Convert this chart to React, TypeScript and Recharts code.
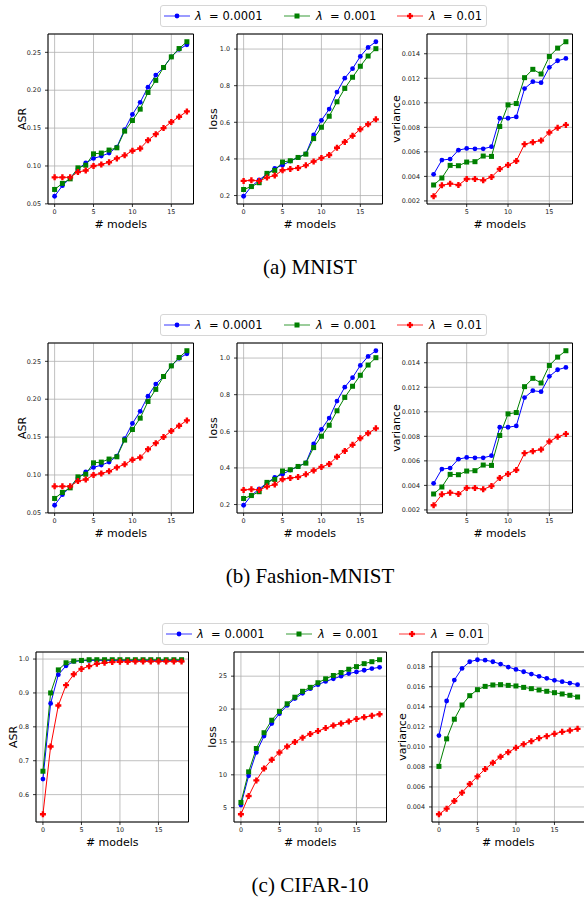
import React from 'react';
import { LineChart, Line, XAxis, YAxis, CartesianGrid, ReferenceArea } from 'recharts';

const FONT = '"DejaVu Sans", sans-serif';
const BLUE = '#0000ff';
const GREEN = '#008000';
const RED = '#ff0000';

// x values
const mnistModels = [0, 1, 2, 3, 4, 5, 6, 7, 8, 9, 10, 11, 12, 13, 14, 15, 16, 17];
const mnistVarModels = [1, 2, 3, 4, 5, 6, 7, 8, 9, 10, 11, 12, 13, 14, 15, 16, 17];
const cifarModels = [0, 1, 2, 3, 4, 5, 6, 7, 8, 9, 10, 11, 12, 13, 14, 15, 16, 17, 18];

// MNIST (also used for Fashion-MNIST, the panels are the same)
const mnistAsr1 = [0.060, 0.074, 0.084, 0.096, 0.104, 0.110, 0.113, 0.117, 0.125, 0.148, 0.168, 0.184, 0.204, 0.220, 0.230, 0.244, 0.254, 0.260];
const mnistAsr2 = [0.069, 0.077, 0.083, 0.0975, 0.101, 0.116, 0.117, 0.121, 0.124, 0.146, 0.160, 0.175, 0.197, 0.213, 0.230, 0.244, 0.255, 0.264];
const mnistAsr3 = [0.085, 0.085, 0.085, 0.092, 0.094, 0.100, 0.102, 0.105, 0.110, 0.114, 0.120, 0.123, 0.134, 0.142, 0.150, 0.158, 0.165, 0.172];

const mnistLoss1 = [0.196, 0.250, 0.285, 0.318, 0.348, 0.366, 0.388, 0.408, 0.428, 0.531, 0.611, 0.672, 0.765, 0.841, 0.893, 0.960, 1.009, 1.040];
const mnistLoss2 = [0.233, 0.249, 0.270, 0.321, 0.337, 0.383, 0.390, 0.408, 0.426, 0.511, 0.573, 0.633, 0.712, 0.785, 0.846, 0.906, 0.962, 1.002];
const mnistLoss3 = [0.280, 0.283, 0.280, 0.298, 0.309, 0.338, 0.345, 0.350, 0.365, 0.386, 0.405, 0.421, 0.461, 0.493, 0.526, 0.562, 0.589, 0.616];

const mnistVar1 = [0.00417, 0.00533, 0.00541, 0.00614, 0.00628, 0.00625, 0.00625, 0.00642, 0.00874, 0.00874, 0.00885, 0.01116, 0.01172, 0.01164, 0.01289, 0.01343, 0.01362];
const mnistVar2 = [0.0033, 0.00387, 0.0049, 0.00487, 0.00517, 0.0052, 0.00566, 0.00563, 0.00807, 0.00983, 0.00994, 0.01205, 0.01273, 0.01235, 0.01378, 0.01446, 0.01498];
const mnistVar3 = [0.00238, 0.00327, 0.00341, 0.0033, 0.00379, 0.00379, 0.00368, 0.00395, 0.0046, 0.00493, 0.00525, 0.00663, 0.00679, 0.00693, 0.00758, 0.00796, 0.0082];

// CIFAR-10
const cifarAsr1 = [0.646, 0.869, 0.954, 0.980, 0.993, 0.995, 0.996, 0.996, 0.996, 0.996, 0.996, 0.996, 0.996, 0.996, 0.996, 0.996, 0.996, 0.996, 0.996];
const cifarAsr2 = [0.669, 0.900, 0.968, 0.989, 0.994, 0.996, 0.998, 0.998, 0.998, 0.998, 0.998, 0.998, 0.998, 0.998, 0.998, 0.998, 0.998, 0.998, 0.998];
const cifarAsr3 = [0.542, 0.742, 0.863, 0.923, 0.955, 0.971, 0.979, 0.986, 0.989, 0.991, 0.992, 0.992, 0.993, 0.993, 0.993, 0.993, 0.993, 0.993, 0.993];

const cifarLoss1 = [5.4, 9.85, 13.4, 15.9, 17.8, 19.3, 20.55, 21.6, 22.4, 23.1, 23.7, 24.2, 24.6, 25.0, 25.4, 25.65, 25.9, 26.15, 26.35];
const cifarLoss2 = [5.8, 10.45, 14.0, 16.4, 18.3, 19.65, 20.8, 21.8, 22.7, 23.3, 24.0, 24.6, 25.1, 25.55, 26.05, 26.45, 26.9, 27.2, 27.5];
const cifarLoss3 = [4.0, 6.77, 9.15, 10.95, 12.3, 13.4, 14.3, 15.0, 15.65, 16.2, 16.65, 17.1, 17.5, 17.8, 18.1, 18.5, 18.75, 19.0, 19.2];

const cifarVar1 = [0.01113, 0.01458, 0.01667, 0.01783, 0.0185, 0.0187, 0.01866, 0.0185, 0.01827, 0.01797, 0.01773, 0.0175, 0.01727, 0.01704, 0.01684, 0.01664, 0.01651, 0.01637, 0.01621];
const cifarVar2 = [0.00805, 0.0108, 0.01276, 0.01418, 0.01511, 0.01571, 0.01604, 0.01618, 0.01621, 0.01614, 0.01608, 0.01594, 0.01581, 0.01568, 0.01555, 0.01541, 0.01528, 0.01515, 0.01498];
const cifarVar3 = [0.00327, 0.00383, 0.0046, 0.00543, 0.00629, 0.00705, 0.00778, 0.00841, 0.00901, 0.00947, 0.0099, 0.01027, 0.01057, 0.01087, 0.01107, 0.0113, 0.0115, 0.01163, 0.0118];

// ticks
const modelTicks = [0, 5, 10, 15];
const varModelTicks = [5, 10, 15];
const mnistAsrTicks = [0.05, 0.1, 0.15, 0.2, 0.25];
const mnistLossTicks = [0.2, 0.4, 0.6, 0.8, 1.0];
const mnistVarTicks = [0.002, 0.004, 0.006, 0.008, 0.01, 0.012, 0.014];
const cifarAsrTicks = [0.6, 0.7, 0.8, 0.9, 1.0];
const cifarLossTicks = [5, 10, 15, 20, 25];
const cifarVarTicks = [0.004, 0.006, 0.008, 0.01, 0.012, 0.014, 0.016, 0.018];

const legendLabels = ['0.0001', '0.001', '0.01'];
const captions = ['(a) MNIST', '(b) Fashion-MNIST', '(c) CIFAR-10'];

const toRows = (xs: number[], a: number[], b: number[], c: number[]) =>
  xs.map((x, i) => ({ x, a: a[i], b: b[i], c: c[i] }));

// matplotlib style 5% margins
const pad = (vals: number[]): [number, number] => {
  const lo = Math.min(...vals);
  const hi = Math.max(...vals);
  const m = (hi - lo) * 0.05;
  return [lo - m, hi + m];
};

const circleDot = (p: any) =>
  p.cx == null ? <g key={p.index} /> : <circle key={p.index} cx={p.cx} cy={p.cy} r={2.4} fill={BLUE} />;
const squareDot = (p: any) =>
  p.cx == null ? <g key={p.index} /> : <rect key={p.index} x={p.cx - 2.5} y={p.cy - 2.5} width={5} height={5} fill={GREEN} />;
const plusPath = (cx: number, cy: number, s: number, w: number) =>
  `M${cx - w},${cy - s}H${cx + w}V${cy - w}H${cx + s}V${cy + w}H${cx + w}V${cy + s}H${cx - w}V${cy + w}H${cx - s}V${cy - w}H${cx - w}Z`;
const plusDot = (p: any) =>
  p.cx == null ? <g key={p.index} /> : <path key={p.index} d={plusPath(p.cx, p.cy, 3, 1.2)} fill={RED} />;

const ML = 42;
const MT = 4;
const MR = 4;
const MB = 32;

type PanelProps = {
  left: number;
  top: number;
  width: number;
  height: number;
  data: { x: number; a: number; b: number; c: number }[];
  xTicks: number[];
  yTicks: number[];
  digits: number;
  yLabel: string;
  labelGap: number;
};

function Panel(p: PanelProps) {
  const xDomain = pad(p.data.map((d) => d.x));
  const yDomain = pad(p.data.flatMap((d) => [d.a, d.b, d.c]));
  const tickStyle = { fontSize: 6.4, fill: '#222', fontFamily: FONT };
  return (
    <div style={{ position: 'absolute', left: p.left - ML, top: p.top - MT }}>
      <LineChart
        width={p.width + ML + MR}
        height={p.height + MT + MB}
        data={p.data}
        margin={{ top: MT, right: MR, left: 0, bottom: 0 }}
      >
        <CartesianGrid stroke="#b0b0b0" strokeWidth={0.8} />
        <XAxis
          type="number"
          dataKey="x"
          domain={xDomain}
          ticks={p.xTicks}
          allowDataOverflow
          interval={0}
          height={MB}
          tickSize={3}
          tickMargin={2}
          axisLine={false}
          tickLine={{ stroke: '#000', strokeWidth: 0.8 }}
          tick={tickStyle}
          label={{ value: '# models', position: 'insideBottom', offset: 8, fontSize: 11, fill: '#000', fontFamily: FONT }}
        />
        <YAxis
          type="number"
          domain={yDomain}
          ticks={p.yTicks}
          allowDataOverflow
          interval={0}
          width={ML}
          tickSize={3}
          tickMargin={4}
          axisLine={false}
          tickLine={{ stroke: '#000', strokeWidth: 0.8 }}
          tick={tickStyle}
          tickFormatter={(v: number) => (p.digits === 0 ? String(v) : v.toFixed(p.digits))}
          label={{
            value: p.yLabel,
            angle: -90,
            position: 'insideLeft',
            offset: ML - p.labelGap,
            style: { textAnchor: 'middle' },
            fontSize: 11,
            fill: '#000',
            fontFamily: FONT,
          }}
        />
        <ReferenceArea
          x1={xDomain[0]}
          x2={xDomain[1]}
          y1={yDomain[0]}
          y2={yDomain[1]}
          fill="none"
          fillOpacity={0}
          stroke="#000"
          strokeWidth={1}
        />
        <Line type="linear" dataKey="a" stroke={BLUE} strokeWidth={1} dot={circleDot} activeDot={false} isAnimationActive={false} />
        <Line type="linear" dataKey="b" stroke={GREEN} strokeWidth={1} dot={squareDot} activeDot={false} isAnimationActive={false} />
        <Line type="linear" dataKey="c" stroke={RED} strokeWidth={1} dot={plusDot} activeDot={false} isAnimationActive={false} />
      </LineChart>
    </div>
  );
}

function LegendBox({ left, top }: { left: number; top: number }) {
  const colors = [BLUE, GREEN, RED];
  const lineX = [3, 123, 236];
  const textX = [34, 155, 268];
  return (
    <div
      style={{
        position: 'absolute',
        left,
        top,
        width: 325,
        height: 20,
        border: '1px solid #d6d6d6',
        borderRadius: 3,
        background: '#fff',
        fontFamily: FONT,
        fontSize: 11.5,
        color: '#000',
      }}
    >
      {legendLabels.map((lab, i) => (
        <React.Fragment key={lab}>
          <svg style={{ position: 'absolute', left: lineX[i], top: 4 }} width={26} height={12}>
            <line x1={0} y1={6} x2={26} y2={6} stroke={colors[i]} strokeWidth={1.3} opacity={0.6} />
            {i === 0 && <circle cx={13} cy={6} r={2.4} fill={BLUE} />}
            {i === 1 && <rect x={10.5} y={3.5} width={5} height={5} fill={GREEN} />}
            {i === 2 && <path d={plusPath(13, 6, 3, 1.2)} fill={RED} />}
          </svg>
          <span style={{ position: 'absolute', left: textX[i], top: 3, lineHeight: '14px', whiteSpace: 'nowrap' }}>
            <i>λ</i>&nbsp; = {lab}
          </span>
        </React.Fragment>
      ))}
    </div>
  );
}

function Caption({ top, text }: { top: number; text: string }) {
  return (
    <div
      style={{
        position: 'absolute',
        left: 0,
        top,
        width: 620,
        textAlign: 'center',
        fontFamily: '"Liberation Serif", "Times New Roman", serif',
        fontSize: 21,
        lineHeight: '24px',
        color: '#000',
      }}
    >
      {text}
    </div>
  );
}

const mnistAsrRows = toRows(mnistModels, mnistAsr1, mnistAsr2, mnistAsr3);
const mnistLossRows = toRows(mnistModels, mnistLoss1, mnistLoss2, mnistLoss3);
const mnistVarRows = toRows(mnistVarModels, mnistVar1, mnistVar2, mnistVar3);
const cifarAsrRows = toRows(cifarModels, cifarAsr1, cifarAsr2, cifarAsr3);
const cifarLossRows = toRows(cifarModels, cifarLoss1, cifarLoss2, cifarLoss3);
const cifarVarRows = toRows(cifarModels, cifarVar1, cifarVar2, cifarVar3);

function MnistRow({ offset }: { offset: number }) {
  const top = 34 + offset;
  return (
    <>
      <LegendBox left={160} top={5 + offset} />
      <Panel left={47.5} top={top} width={145.5} height={170} data={mnistAsrRows} xTicks={modelTicks} yTicks={mnistAsrTicks} digits={2} yLabel="ASR" labelGap={25.5} />
      <Panel left={237} top={top} width={145.5} height={170} data={mnistLossRows} xTicks={modelTicks} yTicks={mnistLossTicks} digits={1} yLabel="loss" labelGap={23.7} />
      <Panel left={427} top={top} width={145.5} height={170} data={mnistVarRows} xTicks={varModelTicks} yTicks={mnistVarTicks} digits={3} yLabel="variance" labelGap={30.5} />
    </>
  );
}

export default function App() {
  return (
    <div style={{ position: 'absolute', left: 0, top: 0, width: 584, height: 897, background: '#fff', overflow: 'hidden' }}>
      <MnistRow offset={0} />
      <Caption top={255} text={captions[0]} />
      <MnistRow offset={309} />
      <Caption top={564} text={captions[1]} />
      <LegendBox left={162} top={623} />
      <Panel left={35.5} top={652} width={152.5} height={170} data={cifarAsrRows} xTicks={modelTicks} yTicks={cifarAsrTicks} digits={1} yLabel="ASR" labelGap={22.8} />
      <Panel left={233.5} top={652} width={152.5} height={170} data={cifarLossRows} xTicks={modelTicks} yTicks={cifarLossTicks} digits={0} yLabel="loss" labelGap={21.8} />
      <Panel left={431.5} top={652} width={152.5} height={170} data={cifarVarRows} xTicks={modelTicks} yTicks={cifarVarTicks} digits={3} yLabel="variance" labelGap={30} />
      <Caption top={873} text={captions[2]} />
    </div>
  );
}
